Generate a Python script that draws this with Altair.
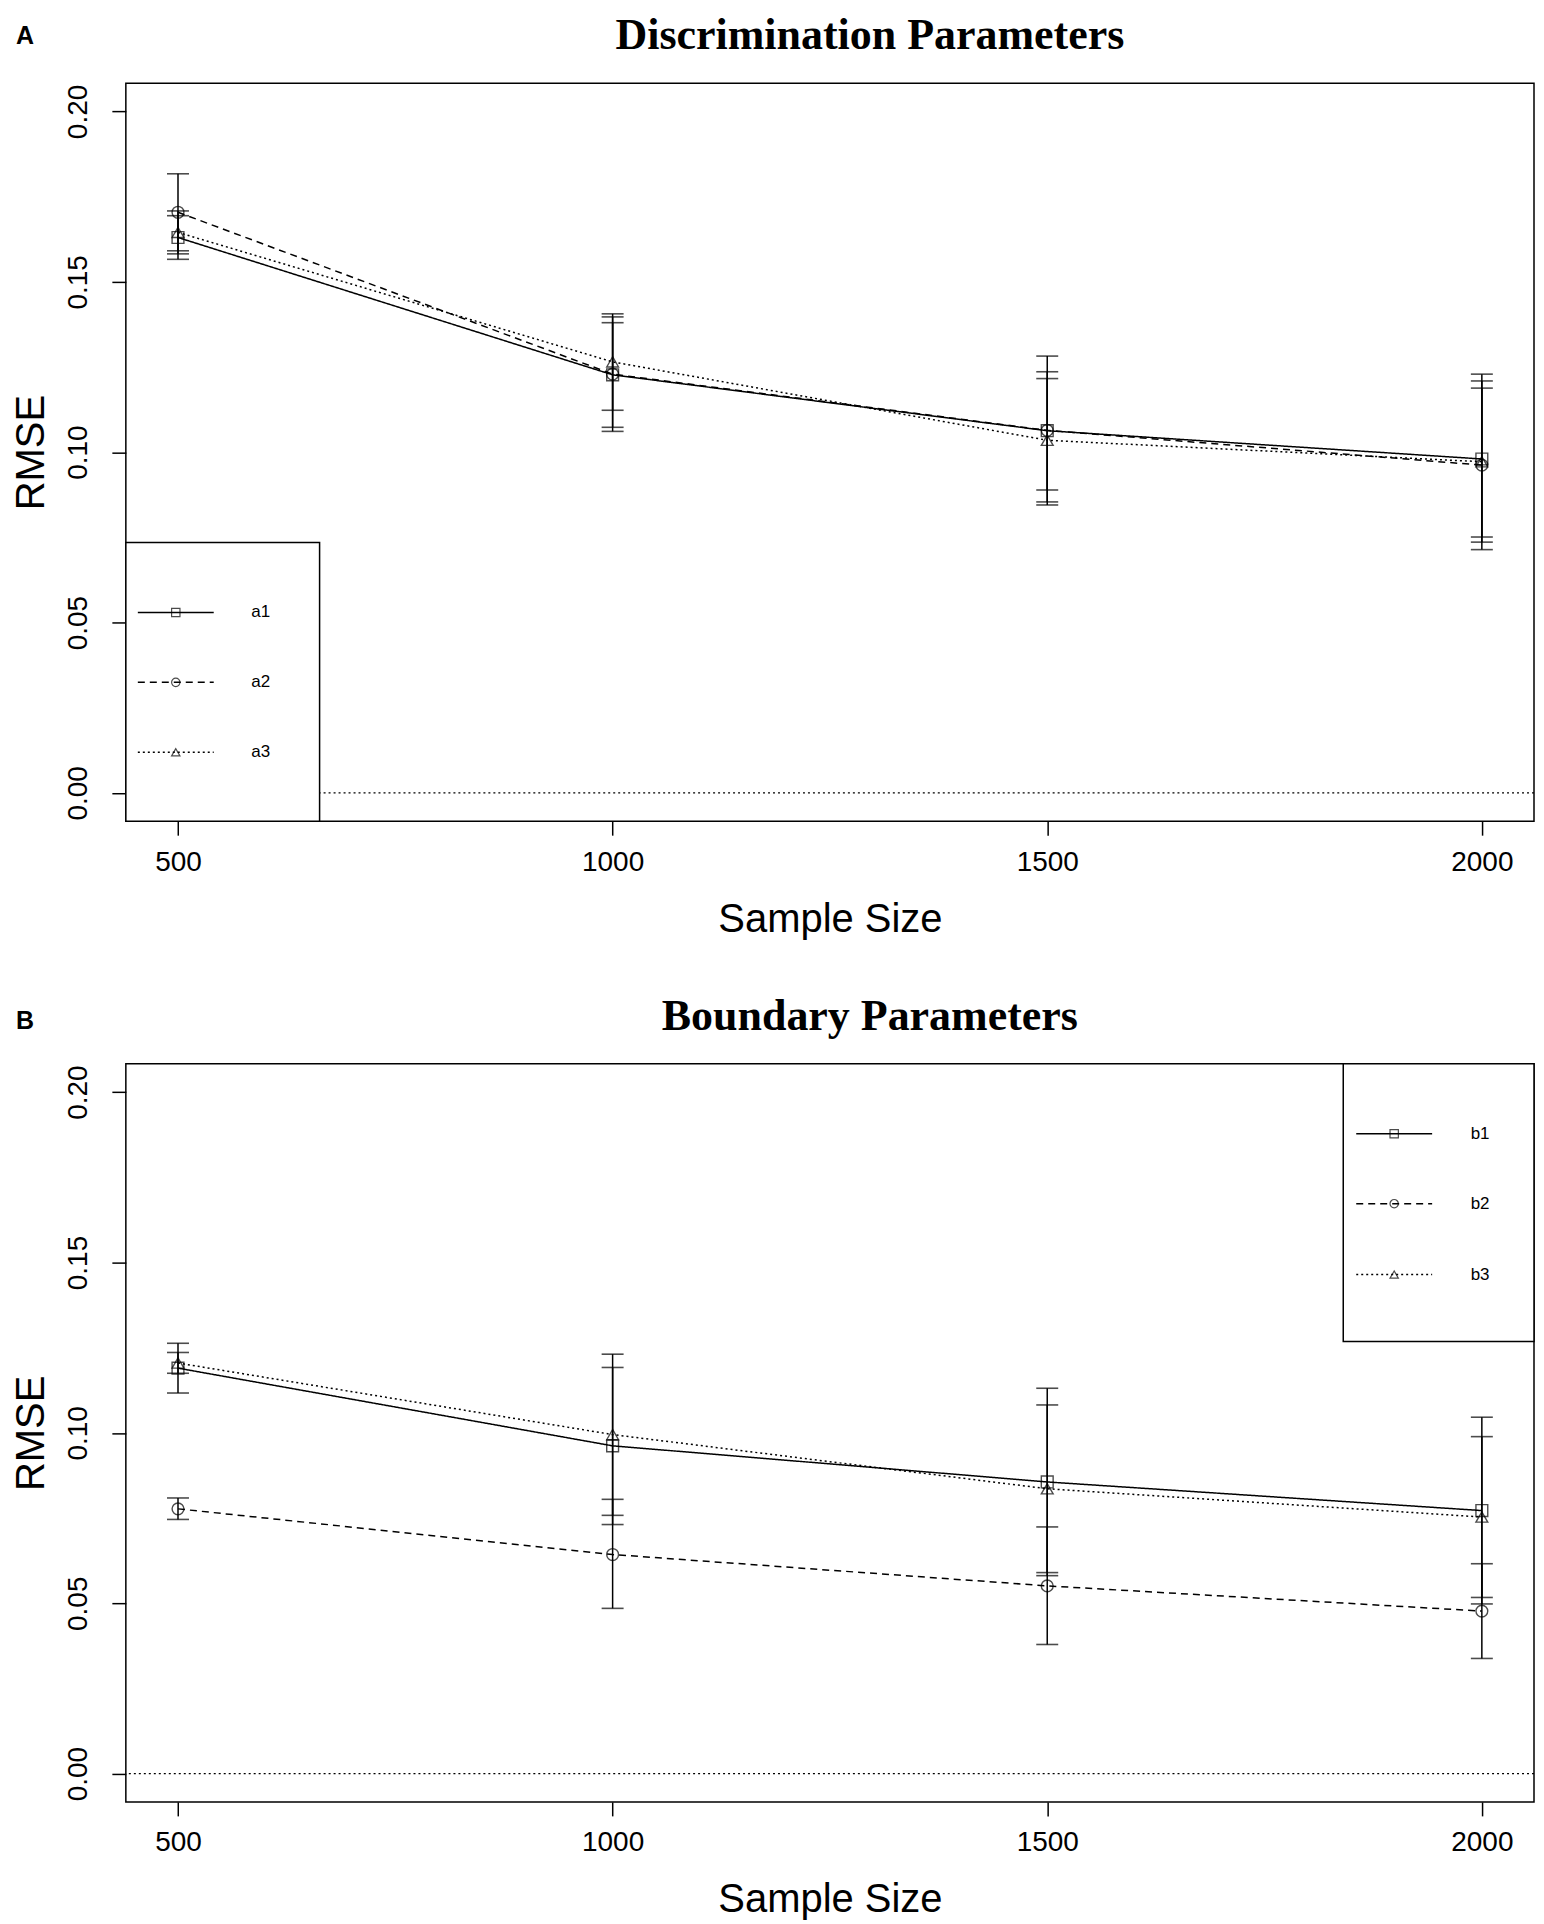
import altair as alt
import pandas as pd

# sample sizes and RMSE
SIZES = [500, 1000, 1500, 2000]

A_NAMES = ['a1', 'a2', 'a3']
A_RMSE = {
    'a1': [0.1630, 0.1227, 0.1063, 0.0980],
    'a2': [0.1704, 0.1229, 0.1064, 0.0962],
    'a3': [0.1645, 0.1265, 0.1035, 0.0972],
}
A_LO = {
    'a1': [0.1566, 0.1073, 0.0889, 0.0751],
    'a2': [0.1591, 0.1061, 0.0845, 0.0736],
    'a3': [0.1582, 0.1123, 0.0854, 0.0714],
}
A_HI = {
    'a1': [0.1694, 0.1380, 0.1236, 0.1209],
    'a2': [0.1817, 0.1397, 0.1282, 0.1188],
    'a3': [0.1708, 0.1406, 0.1216, 0.1229],
}

B_NAMES = ['b1', 'b2', 'b3']
B_RMSE = {
    'b1': [0.1190, 0.0962, 0.0856, 0.0772],
    'b2': [0.0777, 0.0643, 0.0551, 0.0477],
    'b3': [0.1205, 0.0995, 0.0836, 0.0753],
}
B_LO = {
    'b1': [0.1117, 0.0731, 0.0581, 0.0498],
    'b2': [0.0746, 0.0485, 0.0379, 0.0338],
    'b3': [0.1175, 0.0758, 0.0590, 0.0517],
}
B_HI = {
    'b1': [0.1263, 0.1192, 0.1131, 0.1046],
    'b2': [0.0809, 0.0805, 0.0724, 0.0616],
    'b3': [0.1236, 0.1231, 0.1082, 0.0989],
}

Y_TICKS = [0.0, 0.05, 0.10, 0.15, 0.20]

W, H = 1410, 739
SANS = 'Liberation Sans'
SERIF = 'Liberation Serif'
DASHES = [[1, 0], [7, 5], [2, 3]]
SHAPES = ['square', 'circle', 'triangle-up']


def long_table(names, rmse, lo, hi):
    rows = []
    for n in names:
        for s, v, l, h in zip(SIZES, rmse[n], lo[n], hi[n]):
            rows.append({'series': n, 'size': s, 'rmse': v, 'lo': l, 'hi': h})
    return pd.DataFrame(rows)


def panel(names, rmse, lo, hi, title, letter, title_y, letter_y, legend):
    df = long_table(names, rmse, lo, hi)
    xs = alt.Scale(domain=[440, 2060], nice=False, zero=False)
    ys = alt.Scale(domain=[-0.0083, 0.2083], nice=False, zero=False)
    x_axis = alt.Axis(values=SIZES, format='d', title='Sample Size', titleY=98,
                      titleBaseline='middle', labelPadding=13)
    y_axis = alt.Axis(values=Y_TICKS, format='.2f', title='RMSE',
                      labelAngle=270, labelAlign='center',
                      labelBaseline='bottom', labelPadding=19,
                      titleAngle=270, titleX=-94, titleY=H / 2,
                      titleAlign='center', titleBaseline='middle')
    x = alt.X('size:Q', scale=xs, axis=x_axis)
    y = alt.Y('rmse:Q', scale=ys, axis=y_axis)
    dash = alt.StrokeDash('series:N', scale=alt.Scale(domain=names, range=DASHES), legend=None)
    shape = alt.Shape('series:N', scale=alt.Scale(domain=names, range=SHAPES), legend=None)

    base = alt.Chart(df)
    zero = alt.Chart(pd.DataFrame({'z': [0]})).mark_rule(
        color='black', strokeWidth=1.3, strokeDash=[2, 3]
    ).encode(y=alt.Y('z:Q', scale=ys, axis=y_axis))

    bars = base.mark_rule(color='black', strokeWidth=1.5).encode(
        x=x, y=alt.Y('lo:Q', scale=ys, axis=y_axis), y2='hi:Q')
    cap_lo = base.mark_tick(color='black', size=22, thickness=1.6, orient='horizontal').encode(
        x=x, y=alt.Y('lo:Q', scale=ys, axis=y_axis))
    cap_hi = base.mark_tick(color='black', size=22, thickness=1.6, orient='horizontal').encode(
        x=x, y=alt.Y('hi:Q', scale=ys, axis=y_axis))
    lines = base.mark_line(color='black', strokeWidth=1.5).encode(
        x=x, y=y, strokeDash=dash, detail='series:N')
    pts = base.mark_point(color='black', filled=False, size=140, strokeWidth=1.4).encode(
        x=x, y=y, shape=shape)

    # legend box, drawn by hand like the R legend()
    lx0, lx1, ly0, ly1, row_ys, seg, mark_x, text_x = legend
    one = pd.DataFrame({'k': [0]})
    layers = [zero]
    layers.append(alt.Chart(one).mark_rect(fill='white', stroke='black', strokeWidth=1.5).encode(
        x=alt.value(lx0), x2=alt.value(lx1), y=alt.value(ly0), y2=alt.value(ly1)))
    layers += [bars, cap_lo, cap_hi, lines, pts]
    for i, n in enumerate(names):
        item = pd.DataFrame({'series': [n]})
        ry = row_ys[i]
        layers.append(alt.Chart(item).mark_rule(
            color='black', strokeWidth=1.5, strokeDash=DASHES[i]
        ).encode(x=alt.value(seg[0]), x2=alt.value(seg[1]), y=alt.value(ry)))
        layers.append(alt.Chart(item).mark_point(
            color='black', filled=False, size=70, strokeWidth=1.2, shape=SHAPES[i]
        ).encode(x=alt.value(mark_x), y=alt.value(ry)))
        layers.append(alt.Chart(item).mark_text(
            font=SANS, fontSize=17, color='black', align='center', baseline='middle'
        ).encode(text='series:N', x=alt.value(text_x), y=alt.value(ry)))

    head = pd.DataFrame({'t': [title], 'l': [letter]})
    layers.append(alt.Chart(head).mark_text(
        font=SERIF, fontSize=44, fontWeight='bold', color='black',
        align='center', baseline='middle'
    ).encode(text='t:N', x=alt.value(745), y=alt.value(title_y)))
    layers.append(alt.Chart(head).mark_text(
        font=SANS, fontSize=25, fontWeight='bold', color='black',
        align='center', baseline='middle'
    ).encode(text='l:N', x=alt.value(-101), y=alt.value(letter_y)))

    return alt.layer(*layers).properties(width=W, height=H)


legend_a = (0, 194, 460, H, [530, 600, 670], (12, 88), 50, 135)
legend_b = (W - 191, W, 0, 278, [70, 140, 211], (W - 178, W - 102), W - 140, W - 54)

chart_a = panel(A_NAMES, A_RMSE, A_LO, A_HI, 'Discrimination Parameters', 'A', -47, -47, legend_a)
chart_b = panel(B_NAMES, B_RMSE, B_LO, B_HI, 'Boundary Parameters', 'B', -47, -43, legend_b)

chart = alt.vconcat(chart_a, chart_b, spacing=54).properties(
    padding={'left': 3, 'top': 4, 'right': 0, 'bottom': 0},
    background='white'
).configure_view(
    stroke='black', strokeWidth=1.5
).configure_axis(
    domain=False, grid=False,
    tickColor='black', tickSize=14, tickWidth=1.5,
    labelFont=SANS, labelFontSize=28, labelColor='black',
    titleFont=SANS, titleFontSize=40, titleFontWeight='normal', titleColor='black'
)

chart.save('out.html', embed_options={'renderer': 'svg', 'actions': False})
